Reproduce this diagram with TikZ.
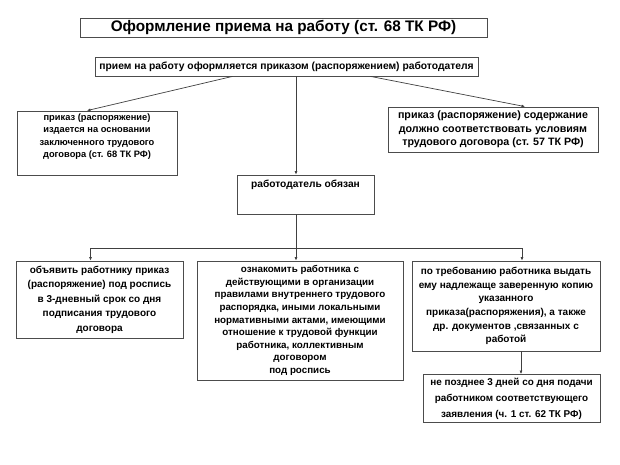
\documentclass[tikz,border=0pt]{standalone}
\usepackage{fontspec}
\setmainfont{Liberation Sans}
\usetikzlibrary{arrows.meta}
\newcommand{\fs}[2]{\fontsize{#1}{#2}\selectfont\bfseries}
\tikzset{
  box/.style={draw=black!70, line width=0.8pt, rectangle, inner sep=1pt, align=center},
  txt/.style={inner sep=0pt, align=center},
  arr/.style={draw=black!75, line width=0.7pt, -{Latex[length=3.5pt,width=3pt]}},
  ln/.style={draw=black!75, line width=0.7pt}
}
\begin{document}
\begin{tikzpicture}[x=1pt,y=-1pt]
\useasboundingbox[fill=white] (0,0) rectangle (620,464);
\node[box, minimum width=407pt, minimum height=19pt, font=\fs{15.3}{16}] (title) at (283.5,27.5) {Оформление приема на работу (ст. 68 ТК РФ)};
\node[box, minimum width=383pt, minimum height=19pt, font=\fs{10.3}{12}] (prikaz) at (286.5,66.5) {прием на работу оформляется приказом (распоряжением) работодателя};
\node[box, minimum width=160pt, minimum height=64pt] (left) at (97,143) {};
\node[txt, font=\fs{9.3}{12.3}] (leftt) at (97,136.5) {приказ (распоряжение)\\издается на основании\\заключенного трудового\\договора (ст. 68 ТК РФ)};
\node[box, minimum width=210pt, minimum height=45pt, font=\fs{10.7}{13.3}] (right) at (493,129.5) {приказ (распоряжение) содержание\\должно соответствовать условиям\\трудового договора (ст. 57 ТК РФ)};
\node[box, minimum width=137pt, minimum height=39pt] (obl) at (305.5,194.5) {};
\node[txt, font=\fs{10.2}{12}] (oblt) at (305.5,184.5) {работодатель обязан};
\node[box, minimum width=167pt, minimum height=77pt, font=\fs{10}{14.5}] (bl) at (99.5,299.5) {объявить работнику приказ\\(распоряжение) под роспись\\в 3-дневный срок со дня\\подписания трудового\\договора};
\node[box, minimum width=206pt, minimum height=119pt, font=\fs{9.8}{12.6}] (bm) at (300,320.5) {ознакомить работника с\\действующими в организации\\правилами внутреннего трудового\\распорядка, иными локальными\\нормативными актами, имеющими\\отношение к трудовой функции\\работника, коллективным\\договором\\под роспись};
\node[box, minimum width=188pt, minimum height=90pt, font=\fs{10}{13.7}] (br) at (506,306) {по требованию работника выдать\\ему надлежаще заверенную копию\\указанного\\приказа(распоряжения), а также\\др. документов ,связанных с\\работой};
\node[box, minimum width=177pt, minimum height=48pt, font=\fs{9.9}{16}] (last) at (511.5,398.5) {не позднее 3 дней со дня подачи\\работником соответствующего\\заявления (ч. 1 ст. 62 ТК РФ)};
% connectors
\draw[arr] ([xshift=-54pt]prikaz.south) -- ([xshift=-10pt]left.north);
\draw[arr] ([xshift=84pt]prikaz.south) -- ([xshift=32pt]right.north);
\draw[arr] ([xshift=9.5pt]prikaz.south) -- ([xshift=-9.5pt]obl.north);
\draw[ln] ([xshift=-9.5pt]obl.south) -- ++(0,34) coordinate (hub);
\draw[arr] (hub) -| ([xshift=-9pt]bl.north);
\draw[arr] (hub) -| ([xshift=16pt]br.north);
\draw[arr] (hub) -- (hub |- bm.north);
\draw[arr] ([xshift=15pt]br.south) -- ([xshift=15pt]br.south |- last.north);
\end{tikzpicture}
\end{document}
